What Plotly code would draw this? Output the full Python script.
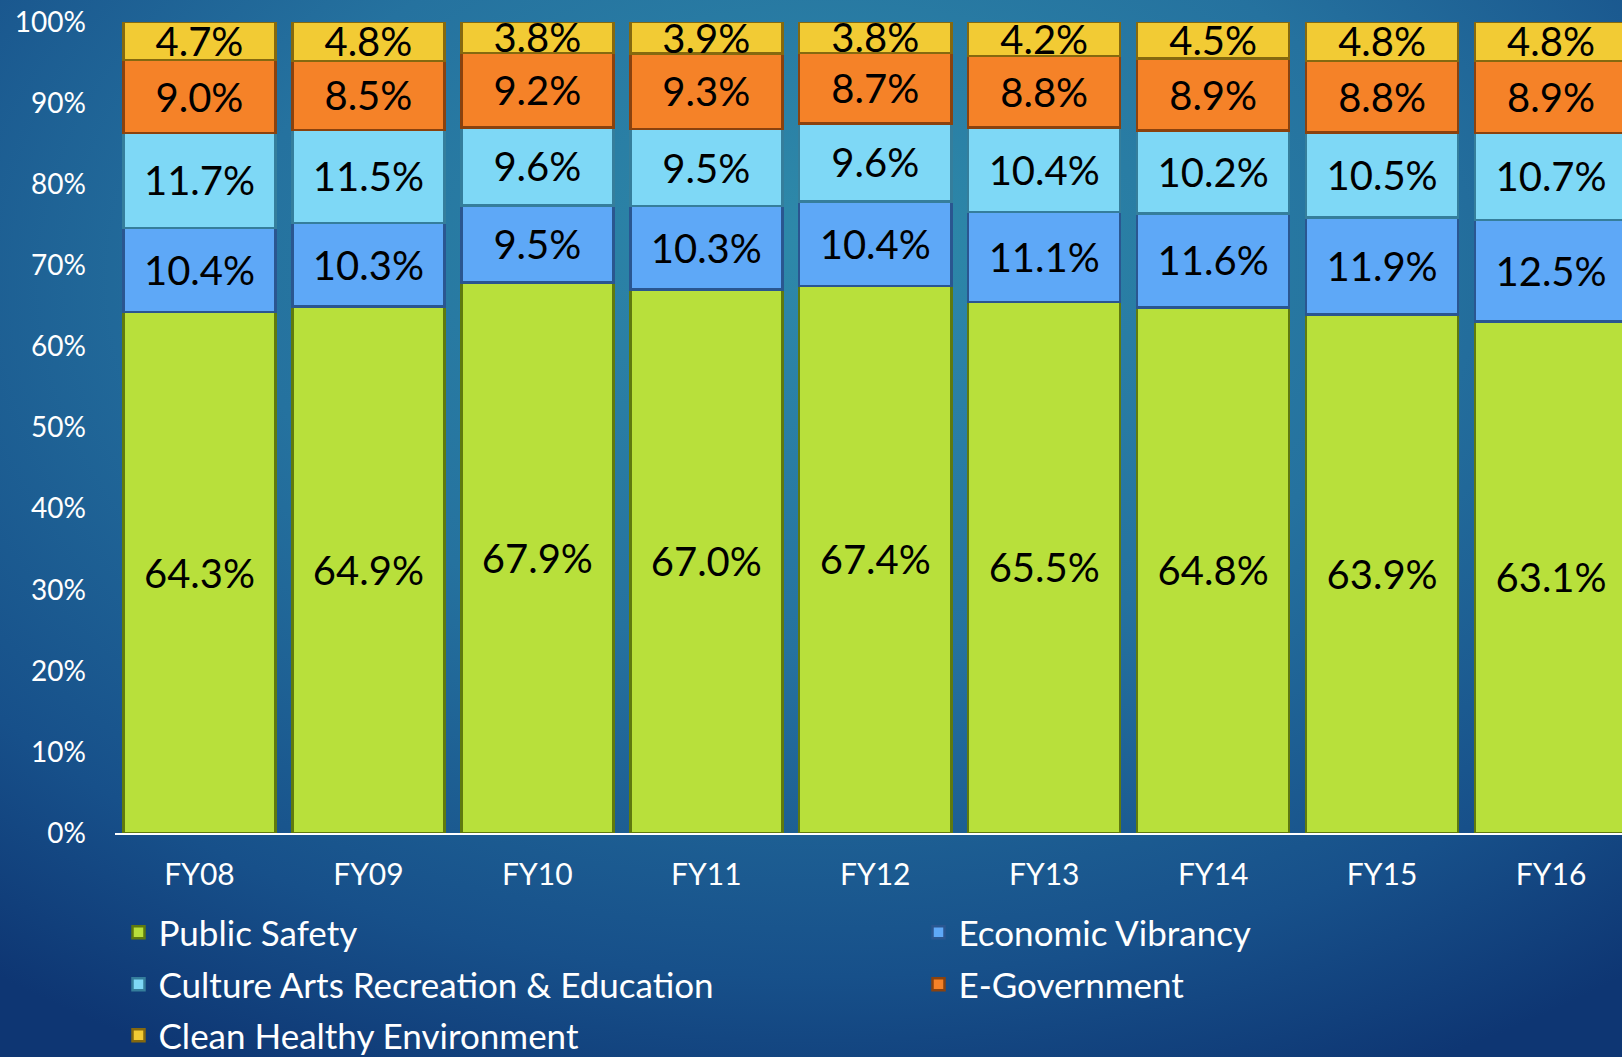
import base64
import plotly.graph_objects as go

categories = ["FY08", "FY09", "FY10", "FY11", "FY12", "FY13", "FY14", "FY15", "FY16"]
public_safety = [64.3, 64.9, 67.9, 67.0, 67.4, 65.5, 64.8, 63.9, 63.1]
economic_vibrancy = [10.4, 10.3, 9.5, 10.3, 10.4, 11.1, 11.6, 11.9, 12.5]
culture_arts = [11.7, 11.5, 9.6, 9.5, 9.6, 10.4, 10.2, 10.5, 10.7]
e_government = [9.0, 8.5, 9.2, 9.3, 8.7, 8.8, 8.9, 8.8, 8.9]
clean_healthy = [4.7, 4.8, 3.8, 3.9, 3.8, 4.2, 4.5, 4.8, 4.8]
y_ticks = [0, 10, 20, 30, 40, 50, 60, 70, 80, 90, 100]

series = [
    ("Public Safety", public_safety, "#B8E03B", "#5F7A0E", "legend"),
    ("Economic Vibrancy", economic_vibrancy, "#5EA8F7", "#2A5690", "legend"),
    ("Culture Arts Recreation & Education", culture_arts, "#7ED8F6", "#357E9C", "legend2"),
    ("E-Government", e_government, "#F58228", "#8A420E", "legend2"),
    ("Clean Healthy Environment", clean_healthy, "#F2CB34", "#85690F", "legend3"),
]

FONT = "Lato"
W, H = 1622, 1057
L, R, T, B = 115, 0, 22, 224
PW, PH = W - L - R, H - T - B

fig = go.Figure()
for name, vals, col, edge, leg in series:
    fig.add_trace(go.Bar(
        name=name, x=categories, y=vals, legend=leg,
        marker=dict(color=col, line=dict(color=edge, width=2.5)),
        text=[f"{v:.1f}%" for v in vals],
        textposition="inside", insidetextanchor="middle",
        textangle=0, constraintext="none",
        textfont=dict(family=FONT, size=40, color="black"),
        hoverinfo="skip",
    ))

svg = f"""<svg xmlns='http://www.w3.org/2000/svg' width='{W}' height='{H}' viewBox='0 0 {W} {H}' preserveAspectRatio='none'>
<defs><radialGradient id='g' cx='0.5' cy='0.3' r='0.8' fx='0.52' fy='0.22'>
<stop offset='0' stop-color='#2E8AAA'/>
<stop offset='0.45' stop-color='#25729F'/>
<stop offset='0.8' stop-color='#17508A'/>
<stop offset='1' stop-color='#0E3673'/>
</radialGradient></defs>
<rect width='{W}' height='{H}' fill='url(#g)'/></svg>"""
src = "data:image/svg+xml;base64," + base64.b64encode(svg.encode()).decode()


def legend_row(top_px):
    return dict(orientation="h", x=-0.001, xanchor="left",
                y=1 - (top_px - T) / PH, yanchor="top",
                entrywidth=750, entrywidthmode="pixels", indentation=5,
                font=dict(family=FONT, size=35, color="white"),
                bgcolor="rgba(0,0,0,0)", traceorder="normal", itemclick=False)


fig.update_layout(
    width=W, height=H,
    barmode="stack", barnorm="percent", bargap=0.1,
    margin=dict(l=L, r=R, t=T, b=B, autoexpand=False),
    paper_bgcolor="#174C86", plot_bgcolor="rgba(0,0,0,0)",
    font=dict(family=FONT, color="white"),
    images=[dict(source=src, xref="paper", yref="paper",
                 x=-L / PW, y=1 + T / PH, sizex=W / PW, sizey=H / PH,
                 xanchor="left", yanchor="top", sizing="stretch", layer="below")],
    xaxis=dict(range=[-0.5, 8.42], showline=True, linecolor="white", linewidth=2,
               showgrid=False, ticks="", tickfont=dict(family=FONT, size=30, color="white"),
               ticklabelstandoff=14, fixedrange=True),
    yaxis=dict(range=[0, 100], tickvals=y_ticks, ticktext=[f"{v}%" for v in y_ticks],
               showgrid=False, zeroline=False, showline=False, ticks="",
               tickfont=dict(family=FONT, size=28, color="white"),
               ticklabelstandoff=28, fixedrange=True),
    legend=legend_row(903),
    legend2=legend_row(955),
    legend3=legend_row(1006),
    showlegend=True,
)

fig.write_html(
    "out.html",
    config={"displayModeBar": False},
    post_script="document.body.style.margin='0';document.body.style.padding='0';"
                "document.body.style.overflow='hidden';",
)
